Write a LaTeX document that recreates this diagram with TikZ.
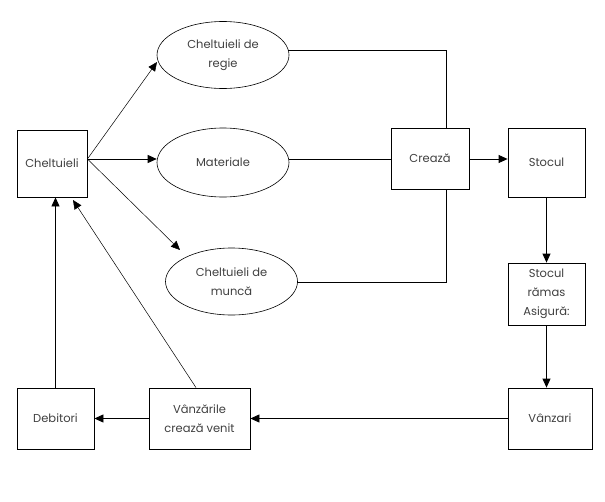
\documentclass[tikz,border=0pt]{standalone}
\usepackage{fontspec}
\setmainfont{Poppins}
\usetikzlibrary{arrows.meta,shapes.geometric}
\begin{document}
\begin{tikzpicture}[x=1pt,y=-1pt,
  every node/.style={font=\fontsize{11.5}{19}\selectfont, text=black!75, align=center, inner sep=0pt},
  box/.style={draw, line width=0.8pt, rectangle},
  oval/.style={draw, line width=0.6pt, ellipse, minimum width=132pt, minimum height=67pt},
  conn/.style={line width=0.8pt},
  arr/.style={line width=0.8pt, -{Triangle[length=9pt,width=8pt]}},
  thin arr/.style={line width=0.5pt, -{Triangle[length=9pt,width=8pt]}}]
\useasboundingbox[fill=white] (0,0) rectangle (605,501);
\node[box, minimum width=70pt, minimum height=67pt] (chel) at (52,163.5) {Cheltuieli};
\node[oval] (regie) at (223,55) {Cheltuieli de\\regie};
\node[oval, minimum height=69pt] (mat) at (223,162.5) {Materiale};
\node[oval] (munca) at (231.5,281.5) {Cheltuieli de\\munc\u{a}};
\node[box, minimum width=78pt, minimum height=61pt] (creaza) at (430,158.5) {Crează};
\node[box, minimum width=77pt, minimum height=69pt] (stoc) at (546.5,162.5) {Stocul};
\node[box, minimum width=77pt, minimum height=62pt] (ramas) at (546.5,294) {Stocul\\rămas\\Asigură:};
\node[box, minimum width=84pt, minimum height=61pt] (vanz) at (550,418.5) {Vânzari};
\node[box, minimum width=101pt, minimum height=61pt] (venit) at (199.5,418.5) {Vânzările\\crează venit};
\node[box, minimum width=77pt, minimum height=61pt] (deb) at (55.5,418.5) {Debitori};
\coordinate (cr) at (chel.east |- 0,159);
\coordinate (jtop) at (creaza.north -| 446,0);
\coordinate (jbot) at (creaza.south -| 446,0);
\draw[thin arr] (cr) -- (157,62);
\draw[arr] (cr) -- (mat.west |- cr);
\draw[thin arr] (cr) -- (180,250);
\draw[conn] (288,50) -| (jtop);
\draw[conn] (mat.east |- 0,159) -- (creaza.west |- 0,159);
\draw[conn] (297,282) -| (jbot);
\draw[arr] (creaza.east |- 0,159) -- (stoc.west |- 0,159);
\draw[arr] (stoc.south) -- (ramas.north);
\draw[arr] (ramas.south) -- (vanz.north -| ramas.south);
\draw[arr] (vanz.west) -- (venit.east);
\draw[arr] (venit.west) -- (deb.east);
\draw[arr] (deb.north) -- (deb.north |- chel.south);
\draw[thin arr] (venit.north -| 196,0) -- (73,200);
\end{tikzpicture}
\end{document}
